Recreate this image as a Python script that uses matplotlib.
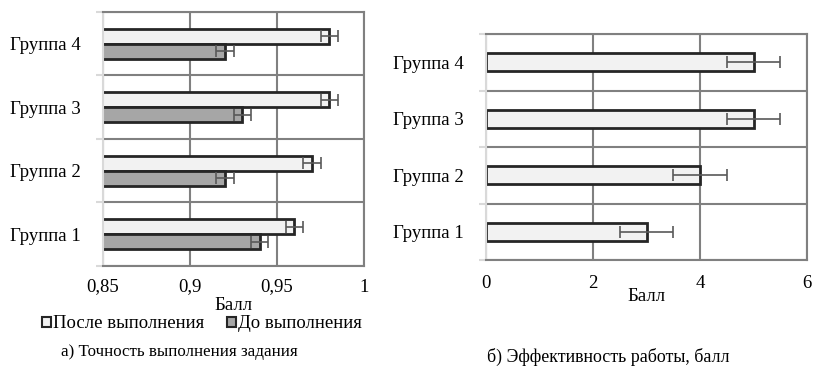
import matplotlib
matplotlib.use("Agg")
import matplotlib.pyplot as plt
from matplotlib.patches import Patch
import numpy as np

plt.rcParams['font.family'] = ['Liberation Serif', 'DejaVu Serif']

groups = ["Группа 1", "Группа 2", "Группа 3", "Группа 4"]
acc_after = [0.96, 0.97, 0.98, 0.98]
acc_before = [0.94, 0.92, 0.93, 0.92]
acc_err = [0.005, 0.005, 0.005, 0.005]
eff = [3, 4, 5, 5]
eff_err = [0.5, 0.5, 0.5, 0.5]
left_ticks = [0.85, 0.9, 0.95, 1.0]
left_ticklabels = ["0,85", "0,9", "0,95", "1"]
right_ticks = [0, 2, 4, 6]
right_ticklabels = ["0", "2", "4", "6"]
legend_labels = ["После выполнения", "До выполнения"]
caption_a = "а) Точность выполнения задания"
caption_b = "б) Эффективность работы, балл"
xlabel = "Балл"

c_light = "#f2f2f2"
c_dark = "#a6a6a6"
c_edge = "#262626"
c_grid = "#808080"
c_err = "#595959"
fs = 13.5

fig = plt.figure(figsize=(8.14, 3.71), dpi=100)
W, H = 814, 371

def style(ax, xpad):
    for s in ["top", "right", "bottom"]:
        ax.spines[s].set_color(c_grid)
        ax.spines[s].set_linewidth(1.5)
    ax.spines["left"].set_color("#d9d9d9")
    ax.spines["left"].set_linewidth(1.5)
    ax.set_axisbelow(True)
    ax.xaxis.grid(True, color=c_grid, linewidth=1.5)
    ax.set_yticks([-0.5, 0.5, 1.5, 2.5, 3.5], minor=True)
    ax.yaxis.grid(True, which="minor", color=c_grid, linewidth=1.5)
    ax.tick_params(axis="y", which="major", length=0, labelsize=fs, pad=16)
    ax.tick_params(axis="y", which="minor", length=5, color="#d9d9d9", width=1.5)
    ax.tick_params(axis="x", length=0, labelsize=fs, pad=xpad)

# Left chart
ax1 = fig.add_axes([103 / W, 1 - 266 / H, (364 - 103) / W, (266 - 12) / H])
y = np.arange(len(groups))
h = 0.24
ax1.barh(y + h / 2, acc_after, height=h, color=c_light, edgecolor=c_edge, linewidth=2, zorder=2)
ax1.barh(y - h / 2, acc_before, height=h, color=c_dark, edgecolor=c_edge, linewidth=2, zorder=2)
ax1.errorbar(acc_after, y + h / 2, xerr=acc_err, fmt="none", ecolor=c_err, elinewidth=1.2, capsize=4.5, capthick=1.2, zorder=3)
ax1.errorbar(acc_before, y - h / 2, xerr=acc_err, fmt="none", ecolor=c_err, elinewidth=1.2, capsize=4.5, capthick=1.2, zorder=3)
ax1.set_xlim(0.85, 1.0)
ax1.set_ylim(-0.5, 3.5)
ax1.set_yticks(y)
ax1.set_yticklabels(groups)
ax1.set_xticks(left_ticks)
ax1.set_xticklabels(left_ticklabels)
style(ax1, 9)
ax1.set_xlabel(xlabel, fontsize=fs, labelpad=1)

# Right chart
ax2 = fig.add_axes([486 / W, 1 - 260 / H, (807 - 486) / W, (260 - 34) / H])
h2 = 0.32
ax2.barh(y, eff, height=h2, color=c_light, edgecolor=c_edge, linewidth=2, zorder=2)
ax2.errorbar(eff, y, xerr=eff_err, fmt="none", ecolor=c_err, elinewidth=1.2, capsize=4.5, capthick=1.2, zorder=3)
ax2.set_xlim(0, 6)
ax2.set_ylim(-0.5, 3.5)
ax2.set_yticks(y)
ax2.set_yticklabels(groups)
ax2.set_xticks(right_ticks)
ax2.set_xticklabels(right_ticklabels)
style(ax2, 11)
ax2.set_xlabel(xlabel, fontsize=fs, labelpad=-3)

handles = [Patch(facecolor=c_light, edgecolor=c_edge, linewidth=1.5),
           Patch(facecolor=c_dark, edgecolor=c_edge, linewidth=1.5)]
fig.legend(handles, legend_labels, loc="center", bbox_to_anchor=(202 / W, 1 - 324 / H),
           ncol=2, frameon=False, fontsize=fs, handlelength=0.5, handleheight=0.5,
           handletextpad=0.1, columnspacing=1.2)

fig.text(179 / W, 1 - 352 / H, caption_a, ha="center", va="center", fontsize=12.2)
fig.text(608 / W, 1 - 357 / H, caption_b, ha="center", va="center", fontsize=12.9)

fig.savefig("out.png", dpi=100)
